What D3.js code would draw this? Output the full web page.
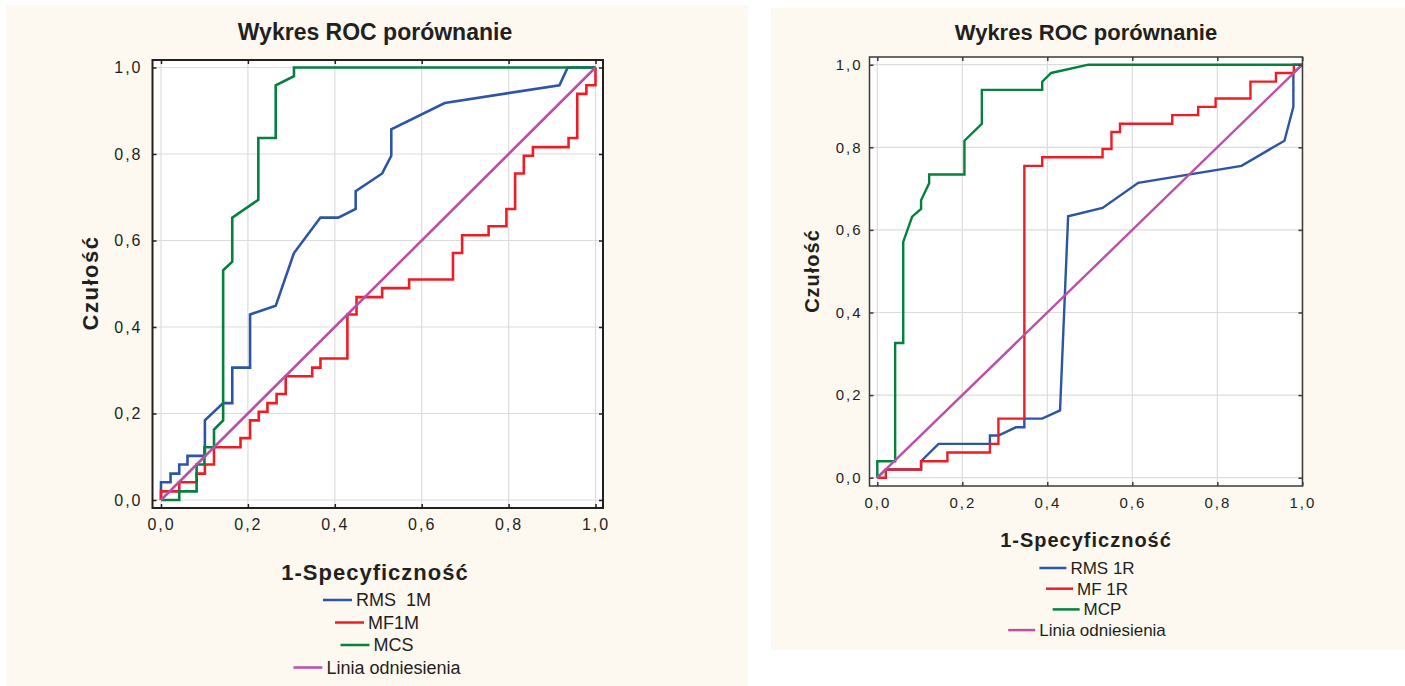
<!DOCTYPE html>
<html>
<head>
<meta charset="utf-8">
<script src="https://cdn.jsdelivr.net/npm/d3@7"></script>
<style>
  body { margin: 0; background: #fff; }
  text { font-family: "Liberation Sans", Arial, sans-serif; fill: #231f20; }
</style>
</head>
<body>
<svg id="chart" width="1405" height="686"></svg>
<script>
const ticks = [0, 0.2, 0.4, 0.6, 0.8, 1.0];
const title = "Wykres ROC porównanie";
const xTitle = "1-Specyficzność";
const yTitle = "Czułość";

// left panel series, [1-specificity, sensitivity]
const rms1m = [[0,0],[0,0.041],[0.022,0.041],[0.022,0.061],[0.042,0.061],[0.042,0.082],[0.061,0.082],[0.061,0.102],
  [0.101,0.102],[0.101,0.184],[0.143,0.224],[0.164,0.224],[0.164,0.306],[0.205,0.306],[0.205,0.429],[0.264,0.449],
  [0.306,0.571],[0.367,0.653],[0.408,0.653],[0.448,0.673],[0.448,0.714],[0.509,0.755],[0.53,0.796],[0.53,0.857],
  [0.653,0.918],[0.917,0.959],[0.936,1],[1,1]];
const mf1m = [[0,0],[0,0.02],[0.042,0.02],[0.042,0.041],[0.082,0.041],[0.082,0.061],[0.101,0.061],[0.101,0.082],
  [0.122,0.082],[0.122,0.122],[0.183,0.122],[0.183,0.143],[0.205,0.143],[0.205,0.184],[0.225,0.184],[0.225,0.204],
  [0.245,0.204],[0.245,0.224],[0.266,0.224],[0.266,0.245],[0.287,0.245],[0.287,0.286],[0.348,0.286],[0.348,0.306],
  [0.367,0.306],[0.367,0.327],[0.429,0.327],[0.429,0.429],[0.45,0.429],[0.45,0.469],[0.509,0.469],[0.509,0.49],
  [0.571,0.49],[0.571,0.51],[0.672,0.51],[0.672,0.571],[0.693,0.571],[0.693,0.612],[0.754,0.612],[0.754,0.633],
  [0.795,0.633],[0.795,0.673],[0.815,0.673],[0.815,0.755],[0.835,0.755],[0.835,0.796],[0.856,0.796],[0.856,0.816],
  [0.938,0.816],[0.938,0.837],[0.958,0.837],[0.958,0.939],[0.979,0.939],[0.979,0.959],[1,0.959],[1,1]];
const mcs = [[0,0],[0.042,0],[0.042,0.02],[0.082,0.02],[0.082,0.082],[0.1,0.082],[0.1,0.122],[0.122,0.122],
  [0.122,0.163],[0.143,0.184],[0.143,0.531],[0.164,0.551],[0.164,0.653],[0.224,0.694],[0.224,0.837],[0.264,0.837],
  [0.264,0.959],[0.306,0.98],[0.306,1],[1,1]];

// right panel series
const rms1r = [[0,0],[0.02,0.02],[0.103,0.02],[0.103,0.04],[0.144,0.082],[0.265,0.082],[0.265,0.102],[0.285,0.102],
  [0.326,0.122],[0.346,0.122],[0.346,0.143],[0.388,0.143],[0.43,0.163],[0.449,0.633],[0.53,0.653],[0.614,0.714],
  [0.857,0.755],[0.958,0.816],[0.979,0.898],[0.979,0.98],[1,1]];
const mf1r = [[0,0],[0.02,0],[0.02,0.02],[0.103,0.02],[0.103,0.04],[0.165,0.04],[0.165,0.061],[0.265,0.061],
  [0.265,0.082],[0.285,0.082],[0.285,0.143],[0.346,0.143],[0.346,0.755],[0.388,0.755],[0.388,0.776],[0.53,0.776],
  [0.53,0.796],[0.551,0.796],[0.551,0.837],[0.571,0.837],[0.571,0.857],[0.694,0.857],[0.694,0.878],[0.755,0.878],
  [0.755,0.898],[0.796,0.898],[0.796,0.918],[0.878,0.918],[0.878,0.959],[0.938,0.959],[0.938,0.98],[0.98,0.98],
  [0.98,1],[1,1]];
const mcp = [[0,0],[0,0.04],[0.042,0.04],[0.042,0.326],[0.061,0.326],[0.061,0.571],[0.082,0.632],[0.103,0.651],
  [0.103,0.672],[0.122,0.713],[0.122,0.734],[0.205,0.734],[0.205,0.816],[0.246,0.857],[0.246,0.939],[0.388,0.939],
  [0.388,0.959],[0.409,0.98],[0.497,1],[1,1]];

const reference = [[0,0],[1,1]];

const leftNames = ["RMS \u00a01M", "MF1M", "MCS", "Linia odniesienia"];
const rightNames = ["RMS 1R", "MF 1R", "MCP", "Linia odniesienia"];
const colors = ["#2e55a5", "#ee1d25", "#05803f", "#bb4fa7"];

const fmt = d3.formatLocale({ decimal: ",", thousands: " ", grouping: [3], currency: ["", ""] }).format(".1f");
const svg = d3.select("#chart");

function panel(cfg) {
  const g = svg.append("g");

  g.append("rect")
    .attr("x", cfg.bg[0]).attr("y", cfg.bg[1])
    .attr("width", cfg.bg[2]).attr("height", cfg.bg[3])
    .attr("fill", "#fdf9f0");

  const x = d3.scaleLinear().domain([0, 1]).range(cfg.xr);
  const y = d3.scaleLinear().domain([0, 1]).range(cfg.yr);
  const f = cfg.frame; // left, top, right, bottom

  g.append("rect")
    .attr("x", f[0]).attr("y", f[1])
    .attr("width", f[2] - f[0]).attr("height", f[3] - f[1])
    .attr("fill", "#fff");

  // grid
  g.append("g").selectAll("line").data(ticks).join("line")
    .attr("x1", d => x(d)).attr("x2", d => x(d))
    .attr("y1", f[1]).attr("y2", f[3])
    .attr("stroke", "#dcdcdc").attr("stroke-width", 1.2);
  g.append("g").selectAll("line").data(ticks).join("line")
    .attr("y1", d => y(d)).attr("y2", d => y(d))
    .attr("x1", f[0]).attr("x2", f[2])
    .attr("stroke", "#dcdcdc").attr("stroke-width", 1.2);

  // curves, reference line on top
  const line = d3.line().x(d => x(d[0])).y(d => y(d[1]));
  const series = cfg.series.concat([reference]);
  series.forEach((s, i) => {
    g.append("path")
      .datum(s)
      .attr("d", line)
      .attr("fill", "none")
      .attr("stroke", colors[i])
      .attr("stroke-width", cfg.lw);
  });

  // frame
  g.append("rect")
    .attr("x", f[0]).attr("y", f[1])
    .attr("width", f[2] - f[0]).attr("height", f[3] - f[1])
    .attr("fill", "none").attr("stroke", cfg.frameColor).attr("stroke-width", cfg.frameWidth);

  // axes with inward ticks
  const left = g.append("g").attr("transform", `translate(${f[0]},0)`)
    .call(d3.axisLeft(y).tickValues(ticks).tickSize(-4).tickPadding(cfg.yPad).tickFormat(fmt));
  const bottom = g.append("g").attr("transform", `translate(0,${f[3]})`)
    .call(d3.axisBottom(x).tickValues(ticks).tickSize(-4).tickPadding(cfg.xPad).tickFormat(fmt));
  const top = g.append("g").attr("transform", `translate(0,${f[1]})`)
    .call(d3.axisTop(x).tickValues(ticks).tickSize(-4).tickFormat(""));
  const right = g.append("g").attr("transform", `translate(${f[2]},0)`)
    .call(d3.axisRight(y).tickValues(ticks).tickSize(-4).tickFormat(""));
  [left, bottom, top, right].forEach(a => {
    a.select(".domain").remove();
    a.selectAll(".tick line").attr("stroke", cfg.frameColor).attr("stroke-width", 1.5);
    a.selectAll(".tick text")
      .style("font-family", "'Liberation Sans', Arial, sans-serif")
      .style("font-size", cfg.tickFont + "px")
      .style("letter-spacing", "2px")
      .attr("fill", "#231f20");
  });

  // titles
  g.append("text")
    .attr("x", cfg.cx).attr("y", cfg.titleY)
    .attr("text-anchor", "middle")
    .style("font-size", cfg.titleFont + "px").style("font-weight", "bold")
    .text(title);
  g.append("text")
    .attr("x", cfg.cx).attr("y", cfg.xTitleY)
    .attr("text-anchor", "middle")
    .style("font-size", cfg.axisFont + "px").style("font-weight", "bold")
    .style("letter-spacing", "1px")
    .text(xTitle);
  g.append("text")
    .attr("transform", `translate(${cfg.yTitleX},${cfg.yTitleY}) rotate(-90)`)
    .attr("text-anchor", "middle")
    .style("font-size", cfg.axisFont + "px").style("font-weight", "bold")
    .style("letter-spacing", cfg.ySpacing + "px")
    .text(yTitle);

  // legend, each row centred
  cfg.names.forEach((name, i) => {
    const row = g.append("g");
    const ly = cfg.legendY + i * cfg.legendStep;
    const t = row.append("text")
      .attr("y", ly)
      .attr("dy", "0.35em")
      .style("font-size", cfg.legendFont + "px")
      .text(name);
    const w = t.node().getComputedTextLength();
    const total = cfg.swatch + cfg.gap + w;
    const x0 = cfg.legendCx - total / 2;
    t.attr("x", x0 + cfg.swatch + cfg.gap);
    row.append("line")
      .attr("x1", x0).attr("x2", x0 + cfg.swatch)
      .attr("y1", ly).attr("y2", ly)
      .attr("stroke", colors[i]).attr("stroke-width", 2.5);
  });
}

panel({
  bg: [6, 5, 742, 681],
  frame: [152.5, 60, 603, 508],
  xr: [161, 595.5], yr: [500, 67.5],
  series: [rms1m, mf1m, mcs],
  names: leftNames,
  lw: 2.6, frameColor: "#231f20", frameWidth: 2,
  yPad: 10, xPad: 11, tickFont: 16,
  cx: 375, titleY: 40, titleFont: 23,
  xTitleY: 580, yTitleX: 98, yTitleY: 283, axisFont: 22, ySpacing: 1.5,
  legendCx: 377, legendY: 600, legendStep: 22.5, legendFont: 18, swatch: 29, gap: 4
});

panel({
  bg: [771, 8, 634, 642],
  frame: [869.5, 57, 1302.5, 486],
  xr: [877.3, 1302.3], yr: [477.7, 64.7],
  series: [rms1r, mf1r, mcp],
  names: rightNames,
  lw: 2.4, frameColor: "#3a3a3a", frameWidth: 1.5,
  yPad: 7, xPad: 11, tickFont: 15,
  cx: 1086, titleY: 40, titleFont: 22,
  xTitleY: 547, yTitleX: 819, yTitleY: 271, axisFont: 20, ySpacing: 1,
  legendCx: 1087, legendY: 568, legendStep: 20.7, legendFont: 17, swatch: 27, gap: 4
});
</script>
</body>
</html>
